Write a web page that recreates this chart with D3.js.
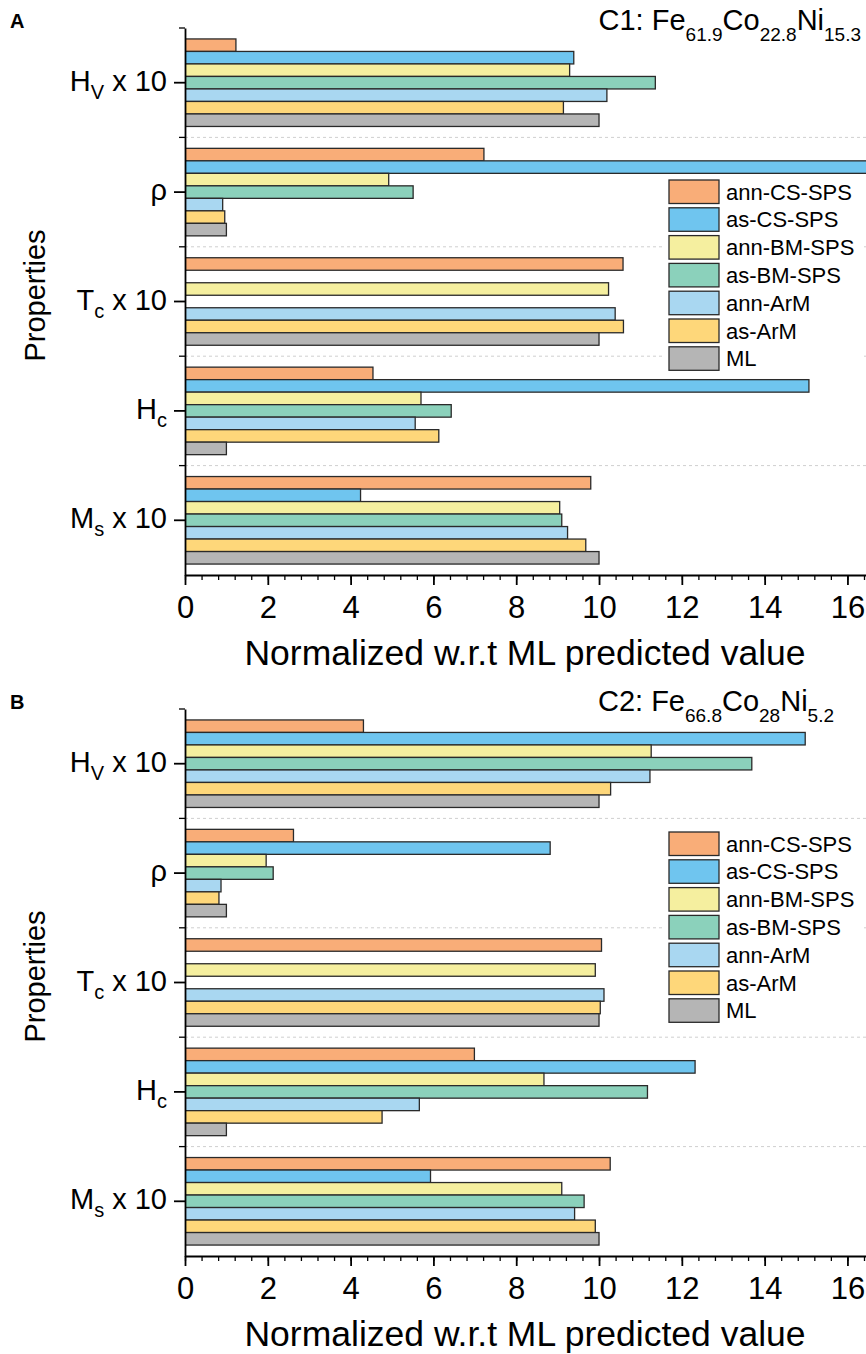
<!DOCTYPE html>
<html lang="en">
<head>
<meta charset="UTF-8">
<title>Normalized properties C1 / C2</title>
<script src="https://d3js.org/d3.v7.min.js"></script>
<style>
    body { margin: 0; background: #fff; }
    svg { display: block; }
    text { font-family: "Liberation Sans", Arial, sans-serif; fill: #000; }
    .bar { stroke: #2a2a2a; stroke-width: 1.3; }
    .grid { stroke: #cfcfcf; stroke-width: 1; stroke-dasharray: 3,3; }
</style>
</head>
<body>
<svg id="fig" width="866" height="1354"></svg>
<script>
    // property groups, top to bottom
    const properties = ["Hv", "rho", "Tc", "Hc", "Ms"];
    const propLabels = [["H", "V", " x 10"], ["\u03C1"], ["T", "c", " x 10"], ["H", "c"], ["M", "s", " x 10"]];

    const series = ["ann-CS-SPS", "as-CS-SPS", "ann-BM-SPS", "as-BM-SPS", "ann-ArM", "as-ArM", "ML"];
    const colors = ["#f9ad78", "#6fc5ef", "#f5ef9f", "#8bd1bb", "#a9d7f1", "#fed77a", "#b5b5b5"];

    const xTicks = [0, 2, 4, 6, 8, 10, 12, 14, 16];

    // C1: Fe61.9Co22.8Ni15.3  (values per property: Hv, rho, Tc, Hc, Ms)
    const c1AnnCS = [1.23, 7.22, 10.58, 4.54, 9.80];
    const c1AsCS  = [9.39, 17.5, null, 15.07, 4.24];   // rho runs off the axis
    const c1AnnBM = [9.29, 4.92, 10.23, 5.70, 9.05];
    const c1AsBM  = [11.36, 5.51, null, 6.43, 9.10];
    const c1AnnAr = [10.19, 0.91, 10.39, 5.56, 9.24];
    const c1AsAr  = [9.14, 0.96, 10.59, 6.13, 9.68];
    const c1ML    = [10, 1, 10, 1, 10];

    // C2: Fe66.8Co28Ni5.2
    const c2AnnCS = [4.31, 2.62, 10.06, 6.99, 10.27];
    const c2AsCS  = [14.98, 8.82, null, 12.32, 5.93];
    const c2AnnBM = [11.26, 1.96, 9.91, 8.67, 9.10];
    const c2AsBM  = [13.69, 2.13, null, 11.17, 9.64];
    const c2AnnAr = [11.23, 0.87, 10.12, 5.66, 9.41];
    const c2AsAr  = [10.28, 0.82, 10.03, 4.76, 9.91];
    const c2ML    = [10, 1, 10, 1, 10];

    const svg = d3.select("#fig");

    const left = 185, plotH = 547;

    function drawPanel(top, letter, title, titleEnd, rows, legendTop, id) {
        const g = svg.append("g");
        const x = d3.scaleLinear().domain([0, 16.4]).range([left, 864]);
        const y = d3.scaleBand().domain(properties).range([top, top + plotH])
            .paddingInner(0.2).paddingOuter(0.1);
        const yi = d3.scaleBand().domain(series).range([0, y.bandwidth()]);
        const bottom = top + plotH;

        // group separators
        const seps = properties.map(p => y(p) - y.step() * 0.1);
        g.selectAll(".grid").data(seps.slice(1)).enter().append("line")
            .attr("class", "grid")
            .attr("x1", left).attr("x2", 866)
            .attr("y1", d => d).attr("y2", d => d);

        g.append("clipPath").attr("id", "clip" + id).append("rect")
            .attr("x", left).attr("y", top - 5).attr("width", 866 - left).attr("height", plotH + 10);

        const data = [];
        properties.forEach((p, i) => {
            series.forEach((s, j) => {
                const v = rows[j][i];
                if (v != null) data.push({ p, s, v, c: colors[j] });
            });
        });

        g.append("g").attr("clip-path", `url(#clip${id})`)
            .selectAll("rect").data(data).enter().append("rect")
            .attr("class", "bar")
            .attr("x", x(0))
            .attr("y", d => y(d.p) + yi(d.s))
            .attr("width", d => x(d.v) - x(0))
            .attr("height", yi.bandwidth())
            .attr("fill", d => d.c);

        // legend
        const lg = g.append("g").attr("transform", `translate(665,${legendTop})`);
        lg.append("rect").attr("x", 0).attr("y", -3).attr("width", 199)
            .attr("height", 27.8 * 6 + 29).attr("fill", "#fff");
        const item = lg.selectAll(".item").data(series).enter().append("g")
            .attr("transform", (d, i) => `translate(4,${i * 27.8})`);
        item.append("rect").attr("class", "bar")
            .attr("width", 50).attr("height", 23.5)
            .attr("fill", (d, i) => colors[i]);
        item.append("text").attr("x", 57).attr("y", 19.5)
            .style("font-size", "22px").text(d => d);

        // x axis
        const xMinor = g.append("g").attr("transform", `translate(0,${bottom})`)
            .call(d3.axisBottom(x).tickValues(d3.range(0, 16.41, 0.4)).tickSize(5).tickFormat(""));
        xMinor.select(".domain").remove();
        xMinor.selectAll("line").attr("stroke", "#000").attr("stroke-width", 1.3);

        const xAxis = g.append("g").attr("transform", `translate(0,${bottom})`)
            .call(d3.axisBottom(x).tickValues(xTicks).tickSize(10).tickSizeOuter(0).tickPadding(8));
        xAxis.select(".domain").attr("stroke-width", 1.8).attr("d", `M${left},0.5H866`);
        xAxis.selectAll(".tick line").attr("stroke-width", 1.8);
        xAxis.selectAll("text").style("font-size", "31px").attr("dy", "0.8em");

        // y axis
        const yMinor = g.append("g").attr("transform", `translate(${left},0)`);
        yMinor.selectAll("line").data(seps).enter().append("line")
            .attr("x1", -6).attr("x2", 0).attr("y1", d => d).attr("y2", d => d)
            .attr("stroke", "#000").attr("stroke-width", 1.3);

        const yAxis = g.append("g").attr("transform", `translate(${left},0)`)
            .call(d3.axisLeft(y).tickSize(11).tickSizeOuter(0).tickFormat(""));
        yAxis.select(".domain").attr("stroke-width", 1.8);
        yAxis.selectAll(".tick line").attr("stroke-width", 1.8);

        properties.forEach((p, i) => {
            const parts = propLabels[i];
            const t = g.append("text")
                .attr("x", left - 18)
                .attr("y", y(p) + y.bandwidth() / 2 + 8)
                .attr("text-anchor", "end")
                .style("font-size", "29px");
            t.append("tspan").text(parts[0]);
            if (parts.length > 1) {
                t.append("tspan").attr("dy", 8).style("font-size", "20px").text(parts[1]);
                if (parts[2]) t.append("tspan").attr("dy", -8).text(parts[2]);
            }
        });

        // axis titles
        g.append("text")
            .attr("transform", `translate(45,${top + plotH / 2 - 6}) rotate(-90)`)
            .attr("text-anchor", "middle")
            .style("font-size", "29px")
            .text("Properties");

        g.append("text")
            .attr("x", 525).attr("y", bottom + 90)
            .attr("text-anchor", "middle")
            .style("font-size", "35.5px")
            .text("Normalized w.r.t ML predicted value");

        // panel letter and composition
        g.append("text").attr("x", 10).attr("y", top)
            .style("font-size", "20px").style("font-weight", "bold").text(letter);

        const tt = g.append("text").attr("x", titleEnd).attr("y", top + 2)
            .attr("text-anchor", "end").style("font-size", "29px");
        title.forEach((s, k) => {
            const sp = tt.append("tspan").text(s);
            if (k % 2 === 1) sp.attr("dy", 11).style("font-size", "19px");
            else if (k > 0) sp.attr("dy", -11);
        });
    }

    drawPanel(28, "A", ["C1: Fe", "61.9", "Co", "22.8", "Ni", "15.3"], 861,
        [c1AnnCS, c1AsCS, c1AnnBM, c1AsBM, c1AnnAr, c1AsAr, c1ML], 180, "a");
    drawPanel(709, "B", ["C2: Fe", "66.8", "Co", "28", "Ni", "5.2"], 834,
        [c2AnnCS, c2AsCS, c2AnnBM, c2AsBM, c2AnnAr, c2AsAr, c2ML], 832, "b");
</script>
</body>
</html>
